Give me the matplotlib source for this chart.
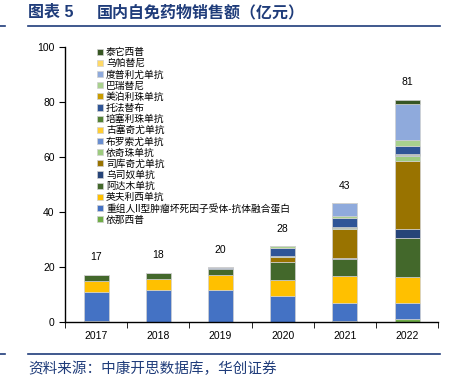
import numpy as np
import matplotlib
matplotlib.use("Agg")
import matplotlib.pyplot as plt

plt.rcParams['font.family'] = ['Liberation Sans', 'Noto Sans CJK SC', 'DejaVu Sans']

years = ['2017', '2018', '2019', '2020', '2021', '2022']
totals = [17, 18, 20, 28, 43, 81]

# stack order, bottom to top
drugs = ['依那西普', '重组人II型肿瘤坏死因子受体-抗体融合蛋白', '英夫利西单抗', '阿达木单抗',
         '乌司奴单抗', '司库奇尤单抗', '依奇珠单抗', '布罗索尤单抗', '古塞奇尤单抗',
         '培塞利珠单抗', '托法替布', '美泊利珠单抗', '巴瑞替尼', '度普利尤单抗',
         '乌帕替尼', '泰它西普']
colors = ['#70AD47', '#4472C4', '#FFC000', '#43682B', '#264478', '#997300', '#9DCB7F',
          '#698ED0', '#FFCD33', '#548235', '#2F5597', '#C99C00', '#A9D18E', '#8FAADC',
          '#FFD966', '#375623']

sales = {
    '依那西普':       [0.3, 0.1, 0.1, 0.1, 0.4, 1.1],
    '重组人II型肿瘤坏死因子受体-抗体融合蛋白': [10.7, 11.7, 11.7, 9.4, 6.6, 5.9],
    '英夫利西单抗':   [4.0, 4.0, 5.3, 5.9, 9.6, 9.5],
    '阿达木单抗':     [2.2, 1.9, 2.2, 6.3, 6.5, 14.2],
    '乌司奴单抗':     [0.0, 0.0, 0.2, 0.2, 0.3, 3.1],
    '司库奇尤单抗':   [0.0, 0.0, 0.2, 1.8, 10.4, 24.9],
    '依奇珠单抗':     [0.0, 0.0, 0.1, 0.3, 0.3, 1.8],
    '布罗索尤单抗':   [0.0, 0.0, 0.1, 0.1, 0.1, 0.2],
    '古塞奇尤单抗':   [0.0, 0.0, 0.0, 0.0, 0.1, 0.2],
    '培塞利珠单抗':   [0.0, 0.0, 0.0, 0.0, 0.1, 0.1],
    '托法替布':       [0.0, 0.1, 0.1, 2.9, 3.6, 3.0],
    '美泊利珠单抗':   [0.0, 0.0, 0.0, 0.0, 0.0, 0.1],
    '巴瑞替尼':       [0.0, 0.2, 0.0, 0.5, 0.7, 2.2],
    '度普利尤单抗':   [0.0, 0.0, 0.0, 0.1, 4.5, 13.0],
    '乌帕替尼':       [0.0, 0.0, 0.0, 0.0, 0.0, 0.1],
    '泰它西普':       [0.0, 0.0, 0.0, 0.0, 0.0, 1.4],
}

navy = '#1F3C7A'

fig = plt.figure(figsize=(4.55, 3.84), dpi=100)
ax = fig.add_axes([0.143, 0.161, 0.82, 0.717])

x = np.arange(len(years))
bottom = np.zeros(len(years))
handles = []
for name, c in zip(drugs, colors):
    vals = np.array(sales[name])
    b = ax.bar(x, vals, 0.4, bottom=bottom, color=c, edgecolor='#D0D0D0',
               linewidth=0.5, label=name)
    handles.append(b)
    bottom += vals

for xi, t, top in zip(x, totals, bottom):
    ax.annotate(str(t), (xi, top), xytext=(0, 9), textcoords='offset points',
                ha='center', va='bottom', fontsize=7.5)

ax.set_xlim(-0.5, len(years) - 0.5)
ax.set_ylim(0, 100)
ax.set_yticks([0, 20, 40, 60, 80, 100])
ax.set_xticks(x)
ax.set_xticklabels(years)
ax.set_xticks(np.arange(len(years) + 1) - 0.5, minor=True)
ax.tick_params(axis='x', which='major', length=0, labelsize=7.5, pad=6)
ax.tick_params(axis='x', which='minor', length=4, direction='out')
ax.tick_params(axis='y', length=4, labelsize=7.5, direction='out')
for s in ['top', 'right']:
    ax.spines[s].set_visible(False)
ax.spines['left'].set_linewidth(1)
ax.spines['bottom'].set_linewidth(1)

ax.legend(handles[::-1], drugs[::-1], loc='upper left', bbox_to_anchor=(0.076, 1.013),
          frameon=False, fontsize=7, handlelength=0.6, handleheight=0.6,
          handletextpad=0.3, labelspacing=0.12, borderaxespad=0)

# header and footer
fig.text(0.062, 0.968, '图表 5', fontsize=11.5, fontweight='bold', color=navy, va='center')
fig.text(0.213, 0.968, '国内自免药物销售额（亿元）', fontsize=11.5, fontweight='bold',
         color=navy, va='center')
fig.add_artist(plt.Line2D([0.062, 0.968], [0.932, 0.932], color=navy, lw=1.2))
fig.add_artist(plt.Line2D([0.0, 0.01], [0.932, 0.932], color=navy, lw=1.2))
fig.add_artist(plt.Line2D([0.062, 0.968], [0.078, 0.078], color=navy, lw=1.2))
fig.add_artist(plt.Line2D([0.0, 0.01], [0.078, 0.078], color=navy, lw=1.2))
fig.text(0.062, 0.039, '资料来源：中康开思数据库，华创证券', fontsize=10.5, color=navy,
         style='italic', va='center')

fig.savefig('out.png', dpi=100)
